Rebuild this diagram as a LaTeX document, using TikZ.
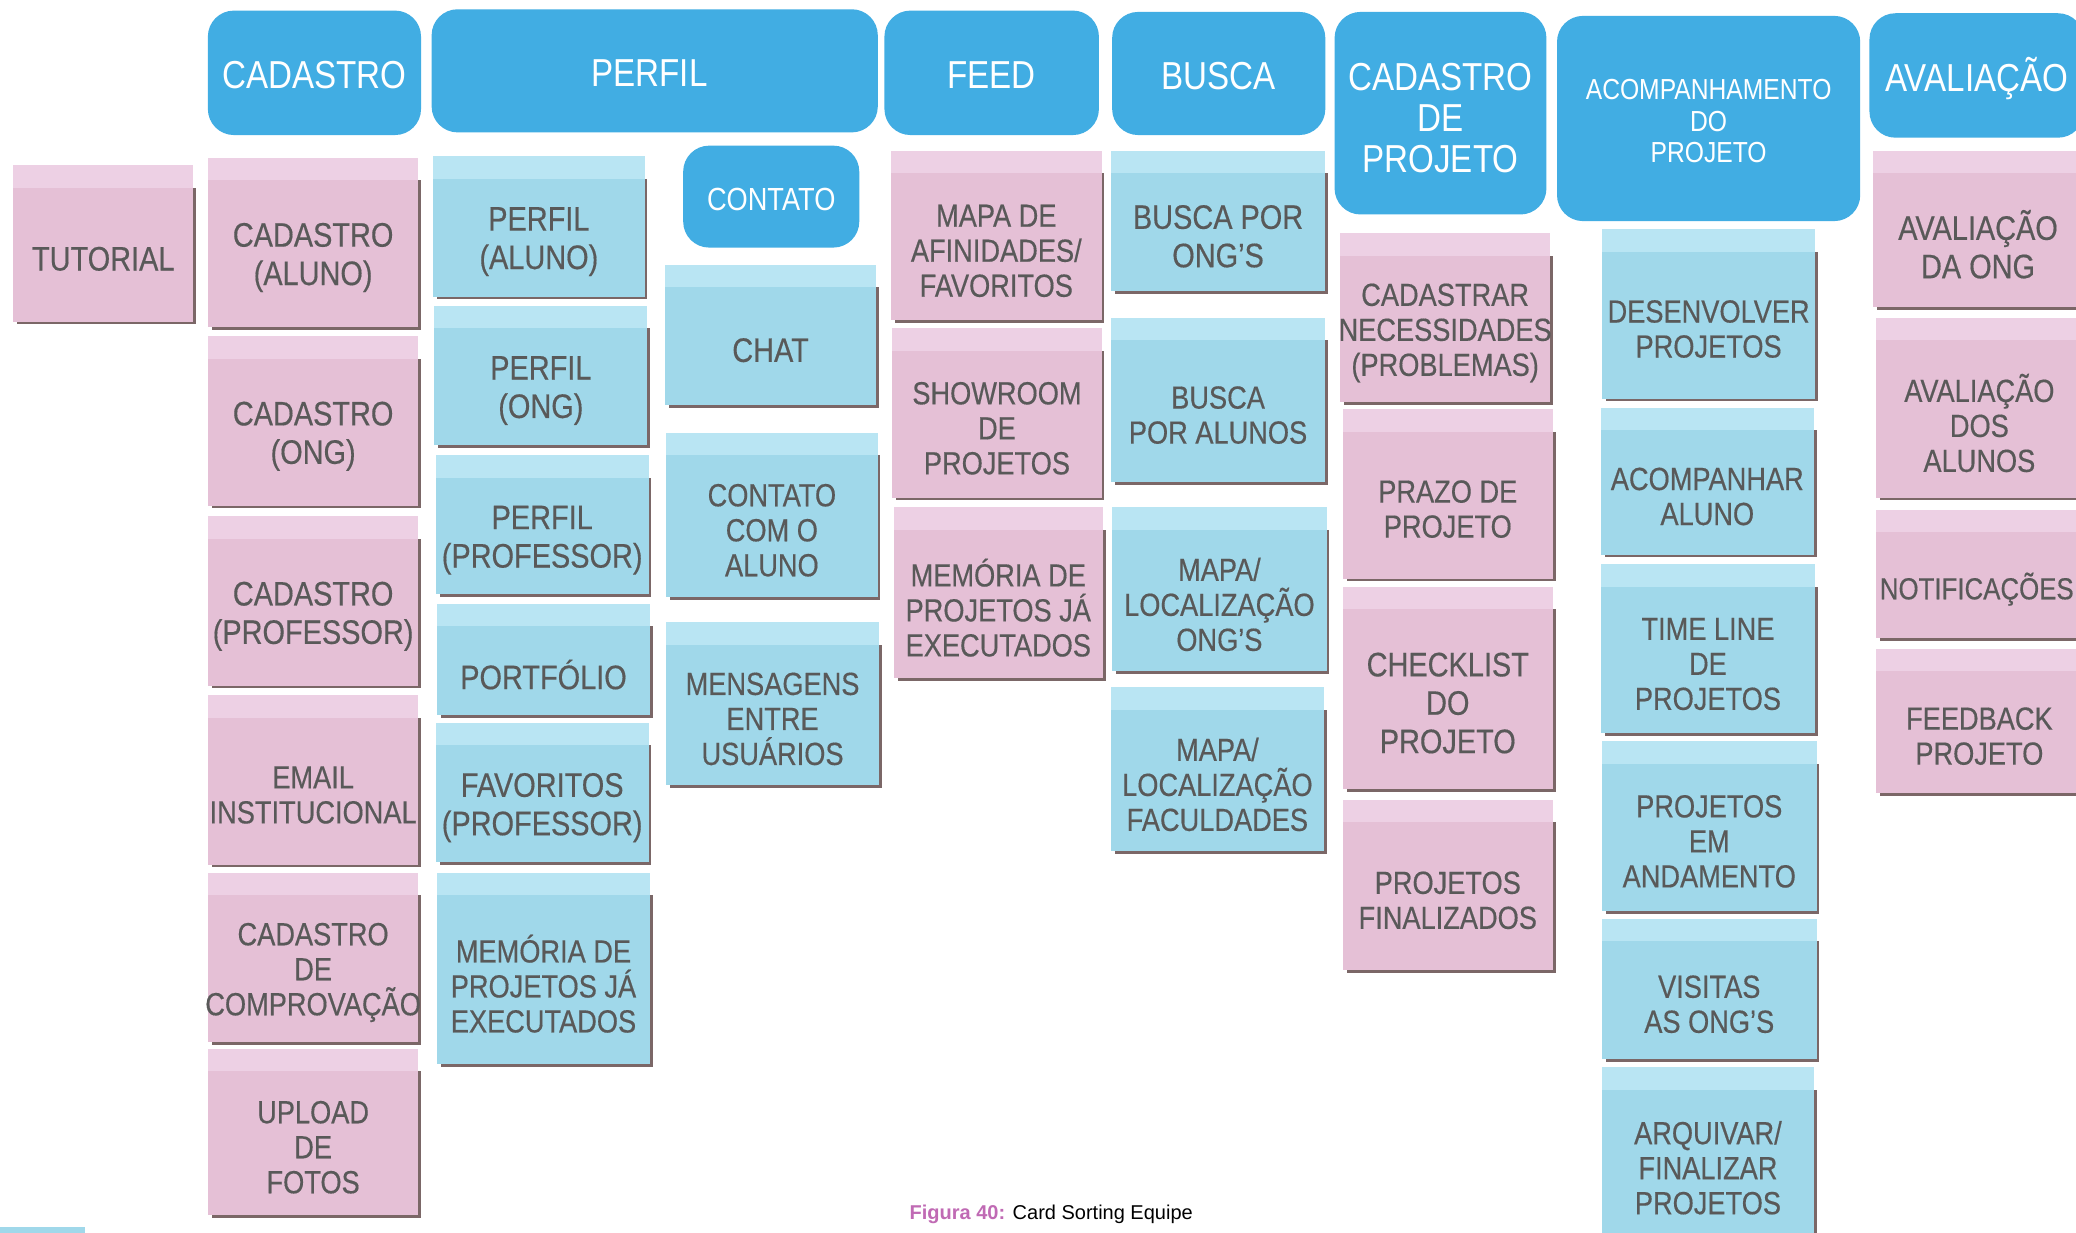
\documentclass[tikz,border=0pt]{standalone}
\usepackage{fontspec}
\setmainfont[FakeStretch=0.85,FakeBold=0.4]{Liberation Sans}
\newfontfamily\hdrfont[FakeStretch=0.85]{Liberation Sans}
\newfontfamily\capfont{Liberation Sans}
\definecolor{hdrblue}{HTML}{41ADE3}
\definecolor{pkcard}{HTML}{E5C0D6}
\definecolor{pkstrip}{HTML}{EDD0E4}
\definecolor{blcard}{HTML}{A0D8EA}
\definecolor{blstrip}{HTML}{B9E5F3}
\definecolor{cardgrey}{HTML}{595959}
\definecolor{shadowc}{HTML}{7B6767}
\definecolor{capurple}{HTML}{C06AB4}
\tikzset{
  hdrfill/.style={fill=hdrblue, rounded corners=13pt},
  hdrtext/.style={text=white, align=center, inner sep=0pt, font=\hdrfont\fontsize{19.5}{20.5}\selectfont},
  cardtext/.style={text=cardgrey, align=center, inner sep=0pt, font=\fontsize{16}{17.5}\selectfont},
  bigtext/.style={font=\fontsize{17}{19.2}\selectfont},
}
% \cardbox[text options]{name}{x1}{y1}{x2}{y2}{pk|bl}{text}
\newcommand\cardbox[8][]{%
  \fill[shadowc] ({#3+3},{#4+17}) rectangle ({#5+2},{#6+2});
  \fill[#7card] (#3,#4) rectangle (#5,#6);
  \fill[#7strip] (#3,#4) rectangle (#5,{#4+17});
  \node[cardtext,#1] (#2) at ({(#3+#5)/2},{(#4+17+#6)/2+3}) {#8};
}
% \hdrbox[text options]{name}{x1}{y1}{x2}{y2}{text}
\newcommand\hdrbox[7][]{%
  \fill[hdrfill] (#3,#4) rectangle (#5,#6);
  \node[hdrtext,#1] (#2) at ({(#3+#5)/2},{(#4+#6)/2+2}) {#7};
}
\begin{document}
\begin{tikzpicture}[x=0.662pt,y=-0.662pt]
\clip (0,0) rectangle (1568,931);
\fill[white] (0,0) rectangle (1568,931);

% headers
\hdrbox{hCad}{157}{8}{318}{102}{CADASTRO}
\hdrbox[xshift=-2.6pt]{hPerfil}{326}{7}{663}{100}{PERFIL}
\hdrbox[font=\hdrfont\fontsize{16}{18}\selectfont]{hContato}{516}{110}{649}{187}{CONTATO}
\hdrbox{hFeed}{668}{8}{830}{102}{FEED}
\hdrbox{hBusca}{840}{9}{1001}{102}{BUSCA}
\hdrbox[yshift=-1.3pt]{hCadProj}{1008}{9}{1168}{162}{CADASTRO\\DE\\PROJETO}
\hdrbox[font=\hdrfont\fontsize{14.5}{15.9}\selectfont]{hAcomp}{1176}{12}{1405}{167}{ACOMPANHAMENTO\\DO\\PROJETO}
\hdrbox{hAval}{1412}{10}{1574}{104}{AVALIAÇÃO}

% tutorial
\cardbox[bigtext]{cTut}{10}{125}{146}{243}{pk}{TUTORIAL}

% cadastro column
\cardbox[bigtext]{cCad1}{157}{119}{316}{247}{pk}{CADASTRO\\(ALUNO)}
\cardbox[bigtext]{cCad2}{157}{254}{316}{382}{pk}{CADASTRO\\(ONG)}
\cardbox[bigtext]{cCad3}{157}{390}{316}{518}{pk}{CADASTRO\\(PROFESSOR)}
\cardbox{cCad4}{157}{525}{316}{653}{pk}{EMAIL\\INSTITUCIONAL}
\cardbox{cCad5}{157}{659}{316}{787}{pk}{CADASTRO\\DE\\COMPROVAÇÃO}
\cardbox{cCad6}{157}{792}{316}{918}{pk}{UPLOAD\\DE\\FOTOS}

% perfil column
\cardbox[bigtext]{cPer1}{327}{118}{487}{224}{bl}{PERFIL\\(ALUNO)}
\cardbox[bigtext]{cPer2}{328}{231}{489}{336}{bl}{PERFIL\\(ONG)}
\cardbox[bigtext]{cPer3}{329}{344}{490}{449}{bl}{PERFIL\\(PROFESSOR)}
\cardbox[bigtext]{cPer4}{330}{456}{491}{540}{bl}{PORTFÓLIO}
\cardbox[bigtext]{cPer5}{329}{546}{490}{651}{bl}{FAVORITOS\\(PROFESSOR)}
\cardbox{cPer6}{330}{659}{491}{804}{bl}{MEMÓRIA DE\\PROJETOS JÁ\\EXECUTADOS}

% contato column
\cardbox[bigtext]{cCon1}{502}{200}{662}{306}{bl}{CHAT}
\cardbox{cCon2}{503}{327}{663}{451}{bl}{CONTATO\\COM O\\ALUNO}
\cardbox{cCon3}{503}{470}{664}{593}{bl}{MENSAGENS\\ENTRE\\USUÁRIOS}

% feed column
\cardbox{cFeed1}{673}{114}{832}{242}{pk}{MAPA DE\\AFINIDADES/\\FAVORITOS}
\cardbox{cFeed2}{674}{248}{832}{376}{pk}{SHOWROOM\\DE\\PROJETOS}
\cardbox{cFeed3}{675}{383}{833}{512}{pk}{MEMÓRIA DE\\PROJETOS JÁ\\EXECUTADOS}

% busca column
\cardbox[bigtext]{cBus1}{839}{114}{1001}{220}{bl}{BUSCA POR\\ONG’S}
\cardbox{cBus2}{839}{240}{1001}{364}{bl}{BUSCA\\POR ALUNOS}
\cardbox{cBus3}{840}{383}{1002}{507}{bl}{MAPA/\\LOCALIZAÇÃO\\ONG’S}
\cardbox{cBus4}{839}{519}{1000}{643}{bl}{MAPA/\\LOCALIZAÇÃO\\FACULDADES}

% cadastro de projeto column
\cardbox{cCP1}{1012}{176}{1171}{304}{pk}{CADASTRAR\\NECESSIDADES\\(PROBLEMAS)}
\cardbox{cCP2}{1014}{309}{1173}{437}{pk}{PRAZO DE\\PROJETO}
\cardbox[bigtext]{cCP3}{1014}{443}{1173}{596}{pk}{CHECKLIST\\DO\\PROJETO}
\cardbox{cCP4}{1014}{604}{1173}{733}{pk}{PROJETOS\\FINALIZADOS}

% acompanhamento column
\cardbox{cAc1}{1210}{173}{1371}{301}{bl}{DESENVOLVER\\PROJETOS}
\cardbox{cAc2}{1209}{308}{1370}{419}{bl}{ACOMPANHAR\\ALUNO}
\cardbox{cAc3}{1209}{426}{1371}{554}{bl}{TIME LINE\\DE\\PROJETOS}
\cardbox{cAc4}{1210}{560}{1372}{688}{bl}{PROJETOS\\EM\\ANDAMENTO}
\cardbox{cAc5}{1210}{694}{1372}{800}{bl}{VISITAS\\AS ONG’S}
\cardbox{cAc6}{1210}{806}{1370}{935}{bl}{ARQUIVAR/\\FINALIZAR\\PROJETOS}

% avaliacao column
\cardbox[bigtext]{cAv1}{1415}{114}{1573}{232}{pk}{AVALIAÇÃO\\DA ONG}
\cardbox{cAv2}{1417}{240}{1573}{376}{pk}{AVALIAÇÃO\\DOS\\ALUNOS}
\cardbox[font=\fontsize{15.2}{17}\selectfont, xshift=-1.3pt]{cAv3}{1417}{385}{1573}{482}{pk}{NOTIFICAÇÕES}
\cardbox{cAv4}{1417}{490}{1573}{599}{pk}{FEEDBACK\\PROJETO}

% bottom-left fragment
\fill[blcard] (0,927) rectangle (64,931);

% caption
\node[inner sep=0pt, font=\capfont\fontsize{10}{12}\selectfont] (cap) at (794,917)
  {\textcolor{capurple}{\textbf{Figura 40:}} Card Sorting Equipe};
\end{tikzpicture}
\end{document}
